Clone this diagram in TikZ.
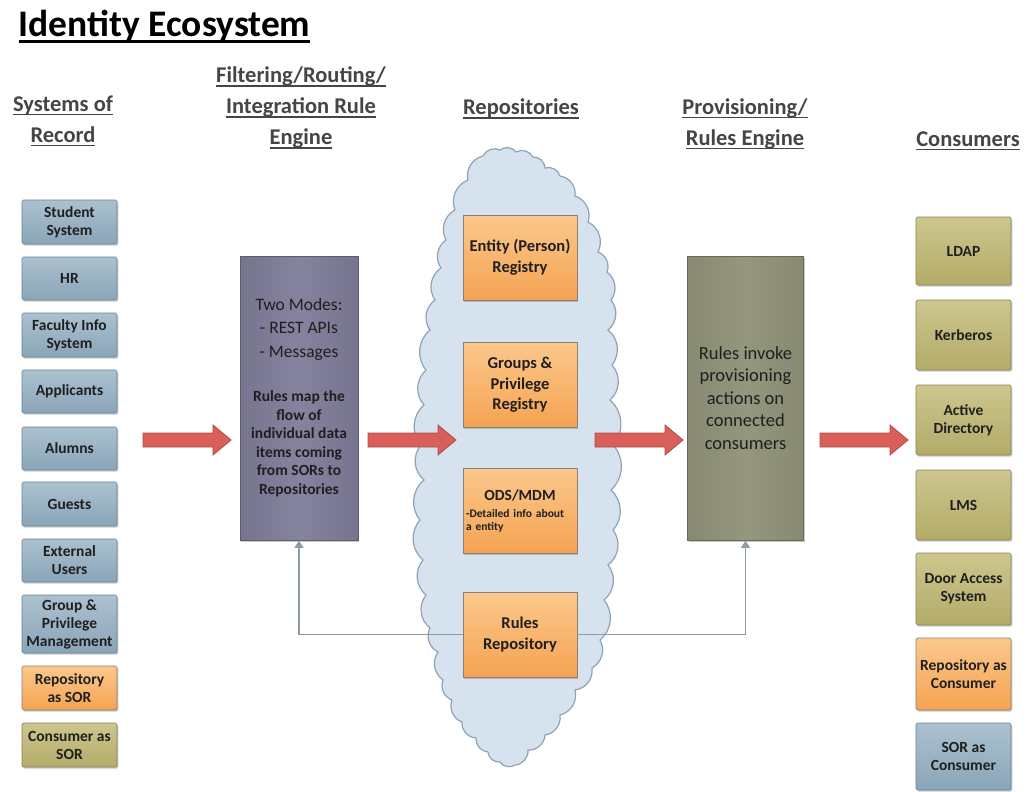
\documentclass[tikz,border=0pt]{standalone}
\usepackage{fontspec}
\setmainfont{Carlito}
\usetikzlibrary{arrows.meta,shadows}
\definecolor{sorTop}{HTML}{ABC1CF}
\definecolor{sorBot}{HTML}{8AA5B8}
\definecolor{sorEdge}{HTML}{6B8597}
\definecolor{orTop}{HTML}{FBC88C}
\definecolor{orBot}{HTML}{F5A352}
\definecolor{orEdge}{HTML}{8C7F72}
\definecolor{olTop}{HTML}{CDC68E}
\definecolor{olBot}{HTML}{B3AB68}
\definecolor{olEdge}{HTML}{8A8457}
\definecolor{puSide}{HTML}{76748E}
\definecolor{puMid}{HTML}{85839E}
\definecolor{puEdge}{HTML}{5D5B70}
\definecolor{grSide}{HTML}{888971}
\definecolor{grMid}{HTML}{95967E}
\definecolor{grEdge}{HTML}{696A56}
\definecolor{cloudFill}{HTML}{D6E3EF}
\definecolor{cloudEdge}{HTML}{8EA3B6}
\definecolor{arrFill}{HTML}{D9605A}
\definecolor{arrEdge}{HTML}{B04A45}
\definecolor{fbCol}{HTML}{8D9BA6}
\definecolor{hdrCol}{HTML}{454545}
\definecolor{txtCol}{HTML}{1F1F1F}
\newcommand\hul[1]{\setbox0\hbox{#1}\rlap{\rule[-4pt]{\wd0}{1.6pt}}\box0}
\newcommand\tul[1]{\setbox0\hbox{#1}\rlap{\rule[-6pt]{\wd0}{2.6pt}}\box0}
\begin{document}
\begin{tikzpicture}[x=1pt,y=-1pt,
  hdr/.style={align=center, text=hdrCol, font=\bfseries\fontsize{22.5}{31}\selectfont},
  basebox/.style={rectangle, align=center, text=txtCol, line width=0.7pt,
    drop shadow={shadow xshift=1.3pt, shadow yshift=-1.6pt, opacity=0.35, fill=black!60}},
  smallbox/.style={basebox, rounded corners=1.5pt, minimum width=95pt,
    font=\bfseries\fontsize{15.5}{18}\selectfont},
  sorbox/.style={smallbox, draw=sorEdge, top color=sorTop, bottom color=sorBot},
  olivebox/.style={smallbox, draw=olEdge, top color=olTop, bottom color=olBot},
  orangebox/.style={smallbox, draw=orEdge, top color=orTop, bottom color=orBot},
  repobox/.style={basebox, draw=orEdge, top color=orTop, bottom color=orBot,
    minimum width=114pt, minimum height=85pt,
    font=\bfseries\fontsize{16.5}{20.5}\selectfont},
  enginebox/.style={basebox, minimum width=118pt, minimum height=284pt, draw=puEdge,
    left color=puSide, right color=puSide, middle color=puMid},
  provbox/.style={basebox, minimum width=116pt, minimum height=284pt, draw=grEdge,
    left color=grSide, right color=grSide, middle color=grMid},
  fbline/.style={draw=fbCol, line width=1.5pt, -{Triangle[width=9pt,length=7pt]}},
  blockarrow/.pic={\filldraw[fill=arrFill, draw=arrEdge, line width=0.8pt, line join=miter]
    (0,-7) -- (70,-7) -- (70,-15) -- (88,0) -- (70,15) -- (70,7) -- (0,7) -- cycle;}
]
\useasboundingbox (0,0) rectangle (1029,792);
\fill[white] (0,0) rectangle (1029,792);

% title and headers
\node[anchor=base west, text=black, font=\bfseries\fontsize{37.5}{40}\selectfont] (title) at (15,37) {\tul{Identity Ecosystem}};
\node[hdr] (hsor) at (63,121) {\hul{Systems of}\\\hul{Record}};
\node[hdr] (heng) at (301,108) {\hul{Filtering/Routing/}\\\hul{Integration Rule}\\\hul{Engine}};
\node[hdr] (hrep) at (521,109) {\hul{Repositories}};
\node[hdr] (hprov) at (745,124) {\hul{Provisioning/}\\\hul{Rules Engine}};
\node[hdr] (hcon) at (968,141) {\hul{Consumers}};

% cloud
\filldraw[fill=cloudFill, draw=cloudEdge, line width=1.2pt] (468,180)
  \foreach \px/\py in {483/156, 500/150, 516/152, 533/157, 545/168, 560/176, 575/196, 588/222,
    598/252, 607/272, 611/300, 608/330, 612/365, 610/400, 613/445, 611/490, 613/530, 608/565,
    604/600, 600/640, 592/668, 575/690, 560/715, 545/735, 528/750, 515/765, 500/762, 488/752,
    476/738, 462/722, 452/700, 443/680, 438/652, 430/628, 426/595, 423/560, 420/520, 424/480,
    421/445, 424/405, 426/370, 430/330, 435/300, 441/268, 446/240, 455/210}
  { to[bend left=45] (\px,\py) } to[bend left=45] (468,180) -- cycle;

% systems of record
\node[sorbox, minimum height=44pt] (s1) at (69.5,222) {Student\\System};
\node[sorbox, minimum height=43pt] (s2) at (69.5,278.5) {HR};
\node[sorbox, minimum height=44pt] (s3) at (69.5,335) {Faculty Info\\System};
\node[sorbox, minimum height=43pt] (s4) at (69.5,391.5) {Applicants};
\node[sorbox, minimum height=43pt] (s5) at (69.5,448.5) {Alumns};
\node[sorbox, minimum height=44pt] (s6) at (69.5,504) {Guests};
\node[sorbox, minimum height=43pt] (s7) at (69.5,560.5) {External\\Users};
\node[sorbox, minimum height=58pt] (s8) at (69.5,624) {Group \&\\Privilege\\Management};
\node[orangebox, minimum height=44pt] (s9) at (69.5,688) {Repository\\as SOR};
\node[olivebox, minimum height=44pt] (s10) at (69.5,745) {Consumer as\\SOR};

% engine
\node[enginebox] (engine) at (299,398.5) {};
\node[align=center, text=txtCol, font=\fontsize{17.5}{23.5}\selectfont] (engA) at (299,329) {Two Modes:\\- REST APIs\\- Messages};
\node[align=center, text=txtCol, font=\bfseries\fontsize{15.5}{18.5}\selectfont] (engB) at (299,444) {Rules map the\\flow of\\individual data\\items coming\\from SORs to\\Repositories};

% repositories
\node[repobox] (ent) at (520,257.5) {Entity (Person)\\Registry};
\node[repobox] (grp) at (520,385) {Groups \&\\Privilege\\Registry};
\node[repobox] (ods) at (520,510.5) {};
\node[text=txtCol, font=\bfseries\fontsize{15.5}{18}\selectfont] (odsA) at (520,495) {ODS/MDM};
\node[align=left, text width=110pt, text=txtCol, font=\bfseries\fontsize{11.5}{12.5}\selectfont] (odsB) at (521,521) {-Detailed info about\\a entity};
\node[repobox] (rules) at (520,634.5) {Rules\\Repository};

% provisioning
\node[provbox] (prov) at (745.5,398.5) {};
\node[align=center, text=txtCol, font=\fontsize{18.5}{22.5}\selectfont] (provT) at (745.5,398) {Rules invoke\\provisioning\\actions on\\connected\\consumers};

% consumers
\node[olivebox, minimum height=68pt] (c1) at (963.5,251) {LDAP};
\node[olivebox, minimum height=70pt] (c2) at (963.5,335) {Kerberos};
\node[olivebox, minimum height=70pt] (c3) at (963.5,420) {Active\\Directory};
\node[olivebox, minimum height=70pt] (c4) at (963.5,505) {LMS};
\node[olivebox, minimum height=72pt] (c5) at (963.5,589) {Door Access\\System};
\node[orangebox, minimum height=72pt] (c6) at (963.5,674) {Repository as\\Consumer};
\node[sorbox, minimum height=67pt] (c7) at (963.5,756.5) {SOR as\\Consumer};

% block arrows
\pic (a1) at (143,440) {blockarrow};
\pic (a2) at (368,440) {blockarrow};
\pic (a3) at (595,440) {blockarrow};
\pic (a4) at (820,440) {blockarrow};

% feedback connectors
\draw[fbline] (rules.west) -| (engine.south);
\draw[fbline] (rules.east) -| (prov.south);
\end{tikzpicture}
\end{document}
